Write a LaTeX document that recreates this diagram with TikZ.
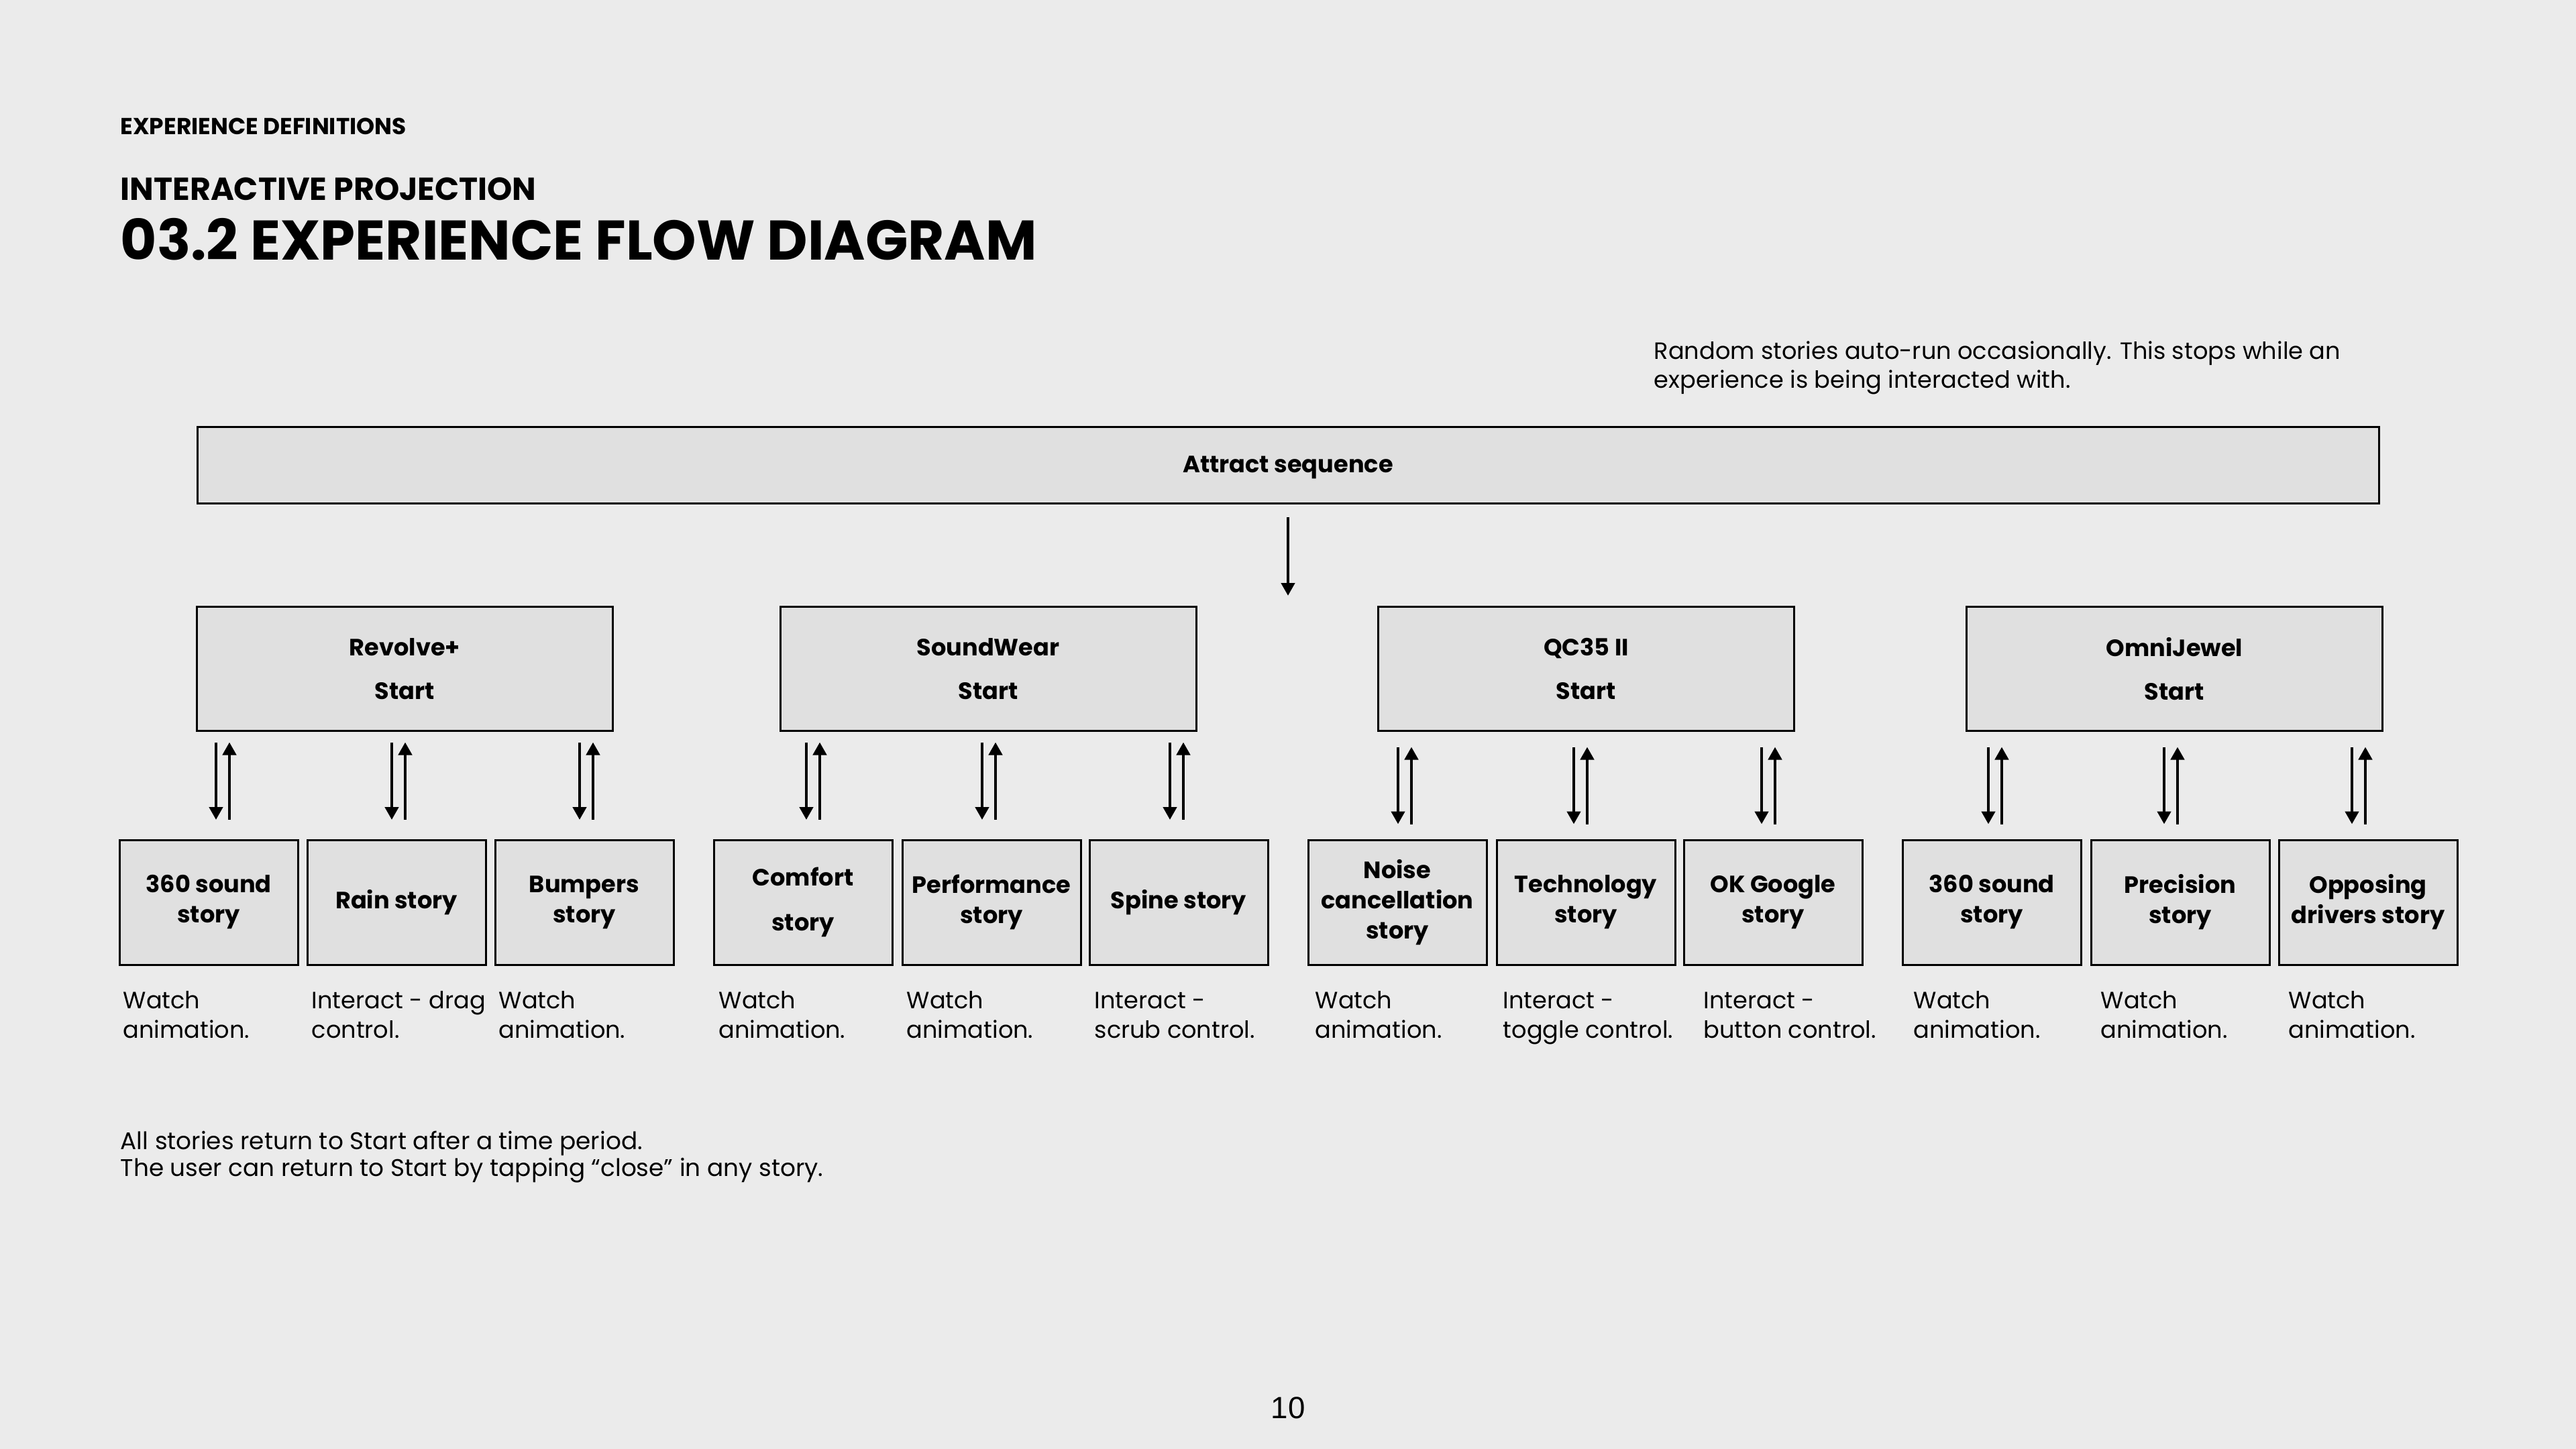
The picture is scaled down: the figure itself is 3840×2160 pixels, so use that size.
\documentclass[tikz,border=0pt]{standalone}
\usepackage{fontspec}
\setmainfont{Poppins}
\newfontfamily\numfont{Liberation Sans}
\usetikzlibrary{arrows.meta}
\definecolor{pagebg}{RGB}{235,235,235}
\definecolor{boxfill}{RGB}{224,224,224}
\newcommand\lblfont{\bfseries\fontsize{10}{12.8}\selectfont}
\newcommand\startfont{\bfseries\fontsize{10}{18.5}\selectfont}
\newcommand\comfortfont{\bfseries\fontsize{10}{19}\selectfont}
\newcommand\descfont{\fontsize{10}{11}\selectfont}
\begin{document}
\begin{tikzpicture}[x=0.1mm,y=-0.1mm,
  box/.style={draw=black, line width=0.3mm, fill=boxfill, inner sep=0pt, align=center},
  storybox/.style={box, font=\lblfont, minimum width=26.6mm, minimum height=18.6mm},
  startbox/.style={box, font=\startfont, minimum width=62mm, minimum height=18.5mm},
  arr/.style={line width=0.45mm, -{Triangle[width=2mm,length=1.9mm]}},
  desc/.style={anchor=base west, inner sep=0pt, font=\descfont},
  note/.style={anchor=base west, inner sep=0pt, font=\fontsize{10}{11}\selectfont}]
\fill[pagebg] (0,0) rectangle (3840,2160);
\useasboundingbox (0,0) rectangle (3840,2160);

% headings
\node[anchor=base west, inner sep=0pt, font=\bfseries\fontsize{9.8}{11}\selectfont] (h1) at (179,200) {EXPERIENCE DEFINITIONS};
\node[anchor=base west, inner sep=0pt, font=\bfseries\fontsize{13.5}{15}\selectfont] (h2) at (179,298) {INTERACTIVE PROJECTION};
\node[anchor=base west, inner sep=0pt, font=\bfseries\fontsize{23.7}{27}\selectfont] (h3) at (179,387) {03.2 EXPERIENCE FLOW DIAGRAM};

% note
\node[note] (n1) at (2465,535) {Random stories auto-run occasionally. This stops while an};
\node[note] (n2) at (2465,578) {experience is being interacted with.};

% attract
\node[box, minimum width=325.2mm, minimum height=11.4mm] (attract) at (1920,693) {};
\node[anchor=base, inner sep=0pt, font=\lblfont] (attractlbl) at (attract.center |- 0,704) {Attract sequence};
\coordinate (atk) at (1920,888);
\draw[arr, shorten <=1.9mm] (attract.south) -- (atk);

% start boxes
\node[startbox] (rev) at (603.5,997) {Revolve+\\Start};
\node[startbox] (snd) at (1473,997) {SoundWear\\Start};
\node[startbox] (qc)  at (2364.5,997) {QC35 II\\Start};
\node[startbox] (omn) at (3241.5,997) {OmniJewel\\Start};

% story boxes
\node[storybox] (g1a) at (311,1345) {360 sound\\story};
\node[storybox] (g1b) at (591,1345) {Rain story};
\node[storybox] (g1c) at (871,1345) {Bumpers\\story};
\node[storybox, font=\comfortfont] (g2a) at (1197,1345) {Comfort\\story};
\node[storybox] (g2b) at (1478,1345) {Performance\\story};
\node[storybox] (g2c) at (1757,1345) {Spine story};
\node[storybox] (g3a) at (2083,1345) {Noise\\cancellation\\story};
\node[storybox] (g3b) at (2364,1345) {Technology\\story};
\node[storybox] (g3c) at (2643,1345) {OK Google\\story};
\node[storybox] (g4a) at (2969,1345) {360 sound\\story};
\node[storybox] (g4b) at (3250,1345) {Precision\\story};
\node[storybox] (g4c) at (3530,1345) {Opposing\\drivers story};

% arrows
\foreach \s/\t/\xd/\xu in {rev/g1a/322/342, rev/g1b/584/604, rev/g1c/864/884,
                           snd/g2a/1202/1222, snd/g2b/1464/1484, snd/g2c/1744/1764}{
  \draw[arr, shorten <=1.55mm, shorten >=2.85mm] (\s.south -| \xd,0) -- (\t.north -| \xd,0);
  \draw[arr, shorten <=2.85mm, shorten >=1.55mm] (\t.north -| \xu,0) -- (\s.south -| \xu,0);
}
\foreach \s/\t/\xd/\xu in {qc/g3a/2084/2104, qc/g3b/2346/2366, qc/g3c/2626/2646,
                           omn/g4a/2964/2984, omn/g4b/3226/3246, omn/g4c/3506/3526}{
  \draw[arr, shorten <=2.25mm, shorten >=2.2mm] (\s.south -| \xd,0) -- (\t.north -| \xd,0);
  \draw[arr, shorten <=2.2mm, shorten >=2.25mm] (\t.north -| \xu,0) -- (\s.south -| \xu,0);
}

% descriptions
\foreach \x/\la/\lb/\n in {183/Watch/animation./d1, 464/Interact - drag/control./d2, 743/Watch/animation./d3,
  1071/Watch/animation./d4, 1351/Watch/animation./d5, 1631/Interact -/scrub control./d6,
  1960/Watch/animation./d7, 2240/Interact -/toggle control./d8, 2539/Interact -/button control./d9,
  2852/Watch/animation./d10, 3131/Watch/animation./d11, 3411/Watch/animation./d12}{
  \node[desc] (\n-1) at (\x,1503) {\la};
  \node[desc] (\n-2) at (\x,1547) {\lb};
}

% footer notes
\node[desc, font=\fontsize{10.2}{12}\selectfont] (f1) at (179,1713) {All stories return to Start after a time period.};
\node[desc, font=\fontsize{10.2}{12}\selectfont] (f2) at (179,1753) {The user can return to Start by tapping “close” in any story.};

\node[anchor=base, inner sep=0pt, font=\numfont\fontsize{13}{15}\selectfont] (pg) at (1920,2114) {10};
\end{tikzpicture}
\end{document}
